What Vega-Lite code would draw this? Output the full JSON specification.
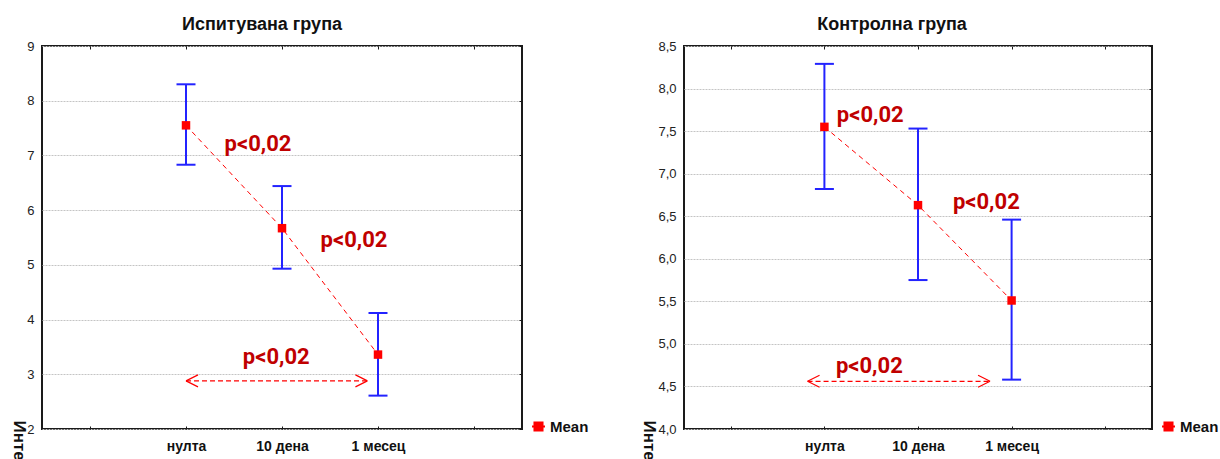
{
  "$schema": "https://vega.github.io/schema/vega-lite/v6.json",
  "background": "white",
  "padding": {"left": 9, "top": 15, "right": 0, "bottom": 0},
  "config": {
    "font": "Liberation Sans",
    "view": {"stroke": "#1a1a1a", "strokeWidth": 2},
    "axis": {"domain": false, "title": null, "grid": false, "labelFont": "Liberation Sans", "tickColor": "#1a1a1a", "tickWidth": 1}
  },
  "datasets": {
    "ispitu": [
      {"t": 1, "mean": 7.55, "lo": 6.83, "hi": 8.30},
      {"t": 2, "mean": 5.67, "lo": 4.93, "hi": 6.44},
      {"t": 3, "mean": 3.36, "lo": 2.61, "hi": 4.12}
    ],
    "ispitu_arrow": [{"x1": 1.0, "x2": 2.89, "y": 2.88}],
    "ispitu_p": [
      {"x": 1.75, "y": 7.09, "label": "p<0,02"},
      {"x": 2.75, "y": 5.33, "label": "p<0,02"},
      {"x": 1.94, "y": 3.19, "label": "p<0,02"}
    ],
    "kontrol": [
      {"t": 1, "mean": 7.55, "lo": 6.82, "hi": 8.29},
      {"t": 2, "mean": 6.63, "lo": 5.75, "hi": 7.53},
      {"t": 3, "mean": 5.51, "lo": 4.58, "hi": 6.46}
    ],
    "kontrol_arrow": [{"x1": 0.82, "x2": 2.77, "y": 4.56}],
    "kontrol_p": [
      {"x": 1.49, "y": 7.61, "label": "p<0,02"},
      {"x": 2.73, "y": 6.59, "label": "p<0,02"},
      {"x": 1.48, "y": 4.66, "label": "p<0,02"}
    ]
  },
  "hconcat": [
    {
      "width": 480,
      "height": 383,
      "title": {"text": "Испитувана група", "fontSize": 18, "fontWeight": "bold", "color": "#111", "dx": -20, "offset": -8, "baseline": "alphabetic"},
      "resolve": {"axis": {"x": "independent", "y": "independent"}},
      "layer": [
        {
          "data": {"name": "ispitu"},
          "mark": {"type": "rule", "color": "#2323ff", "strokeWidth": 2},
          "encoding": {
            "x": {"field": "t", "type": "quantitative", "scale": {"domain": [-0.5, 4.5], "nice": false, "zero": false},
              "axis": {"orient": "bottom", "values": [0, 1, 2, 3, 4], "labelExpr": "datum.value == 1 ? 'нулта' : datum.value == 2 ? '10 дена' : datum.value == 3 ? '1 месец' : ''",
                "ticks": true, "tickSize": -3, "labelFontSize": 14, "labelFontWeight": "bold", "labelColor": "#111", "labelPadding": 13}},
            "y": {"field": "lo", "type": "quantitative", "scale": {"domain": [2, 9], "nice": false, "zero": false},
              "axis": {"orient": "left", "values": [2, 3, 4, 5, 6, 7, 8, 9], "ticks": false, "labelPadding": 8, "labelFontSize": 13, "labelColor": "#222",
                "grid": true, "gridColor": "#c4c4c4", "gridDash": [2, 1], "gridWidth": 1,
                "title": "Инте", "titleAngle": 90, "titleX": -29, "titleY": 374, "titleAlign": "left", "titleBaseline": "alphabetic", "titleFontSize": 17, "titleFontWeight": "bold", "titleColor": "#111"}},
            "y2": {"field": "hi"}
          }
        },
        {
          "data": {"name": "ispitu"},
          "mark": {"type": "tick", "orient": "horizontal", "color": "#2323ff", "size": 19, "thickness": 2, "opacity": 1},
          "encoding": {"x": {"field": "t", "type": "quantitative", "axis": null}, "y": {"field": "lo", "type": "quantitative", "axis": null}}
        },
        {
          "data": {"name": "ispitu"},
          "mark": {"type": "tick", "orient": "horizontal", "color": "#2323ff", "size": 19, "thickness": 2, "opacity": 1},
          "encoding": {"x": {"field": "t", "type": "quantitative", "axis": null}, "y": {"field": "hi", "type": "quantitative", "axis": null}}
        },
        {
          "data": {"name": "ispitu"},
          "mark": {"type": "line", "color": "#ff0000", "strokeWidth": 1, "strokeDash": [5, 4]},
          "encoding": {
            "x": {"field": "t", "type": "quantitative", "axis": {"orient": "top", "values": [0, 1, 2, 3, 4], "labels": false, "ticks": true, "tickSize": -3}},
            "y": {"field": "mean", "type": "quantitative", "axis": {"orient": "right", "values": [2, 3, 4, 5, 6, 7, 8, 9], "labels": false, "ticks": true, "tickSize": -3}}
          }
        },
        {
          "data": {"name": "ispitu_arrow"},
          "mark": {"type": "rule", "color": "#ff0000", "strokeWidth": 1.2, "strokeDash": [5, 3]},
          "encoding": {"x": {"field": "x1", "type": "quantitative", "axis": null}, "x2": {"field": "x2"}, "y": {"field": "y", "type": "quantitative", "axis": null}}
        },
        {
          "data": {"name": "ispitu_arrow"},
          "mark": {"type": "point", "shape": "M0,0L2,-1M0,0L2,1", "filled": false, "color": "#ff0000", "strokeWidth": 1.2, "size": 144, "opacity": 1},
          "encoding": {"x": {"field": "x1", "type": "quantitative", "axis": null}, "y": {"field": "y", "type": "quantitative", "axis": null}}
        },
        {
          "data": {"name": "ispitu_arrow"},
          "mark": {"type": "point", "shape": "M0,0L-2,-1M0,0L-2,1", "filled": false, "color": "#ff0000", "strokeWidth": 1.2, "size": 144, "opacity": 1},
          "encoding": {"x": {"field": "x2", "type": "quantitative", "axis": null}, "y": {"field": "y", "type": "quantitative", "axis": null}}
        },
        {
          "data": {"name": "ispitu"},
          "mark": {"type": "point", "shape": "square", "filled": true, "size": 72, "opacity": 1},
          "encoding": {
            "x": {"field": "t", "type": "quantitative", "axis": null},
            "y": {"field": "mean", "type": "quantitative", "axis": null},
            "color": {"datum": "Mean", "type": "nominal", "scale": {"range": ["#ff0000"]},
              "legend": {"orient": "none", "legendX": 489, "legendY": 373, "title": null, "padding": 0,
                "symbolType": "M-1,0H1M-0.62,-0.62H0.62V0.62H-0.62Z", "symbolSize": 169, "symbolOpacity": 1,
                "labelFontSize": 15, "labelFontWeight": "bold", "labelColor": "#111", "labelOffset": 4,
                "encode": {"symbols": {"update": {"fill": {"value": "#ff0000"}, "stroke": {"value": "#ff0000"}, "strokeWidth": {"value": 2}, "opacity": {"value": 1}}}}}}
          }
        },
        {
          "data": {"name": "ispitu_p"},
          "mark": {"type": "text", "font": "Roboto", "fontSize": 22, "fontWeight": "bold", "color": "#c00000", "align": "center", "baseline": "alphabetic"},
          "encoding": {"x": {"field": "x", "type": "quantitative", "axis": null}, "y": {"field": "y", "type": "quantitative", "axis": null}, "text": {"field": "label"}}
        }
      ]
    },
    {
      "width": 468,
      "height": 383,
      "title": {"text": "Контролна група", "fontSize": 18, "fontWeight": "bold", "color": "#111", "dx": -26, "offset": -8, "baseline": "alphabetic"},
      "resolve": {"axis": {"x": "independent", "y": "independent"}},
      "layer": [
        {
          "data": {"name": "kontrol"},
          "mark": {"type": "rule", "color": "#2323ff", "strokeWidth": 2},
          "encoding": {
            "x": {"field": "t", "type": "quantitative", "scale": {"domain": [-0.5, 4.5], "nice": false, "zero": false},
              "axis": {"orient": "bottom", "values": [0, 1, 2, 3, 4], "labelExpr": "datum.value == 1 ? 'нулта' : datum.value == 2 ? '10 дена' : datum.value == 3 ? '1 месец' : ''",
                "ticks": true, "tickSize": -3, "labelFontSize": 14, "labelFontWeight": "bold", "labelColor": "#111", "labelPadding": 13}},
            "y": {"field": "lo", "type": "quantitative", "scale": {"domain": [4, 8.5], "nice": false, "zero": false},
              "axis": {"orient": "left", "values": [4, 4.5, 5, 5.5, 6, 6.5, 7, 7.5, 8, 8.5], "labelExpr": "replace(format(datum.value, '.1f'), '.', ',')",
                "ticks": false, "labelPadding": 8, "labelFontSize": 13, "labelColor": "#222",
                "grid": true, "gridColor": "#c4c4c4", "gridDash": [2, 1], "gridWidth": 1,
                "title": "Инте", "titleAngle": 90, "titleX": -41, "titleY": 374, "titleAlign": "left", "titleBaseline": "alphabetic", "titleFontSize": 17, "titleFontWeight": "bold", "titleColor": "#111"}},
            "y2": {"field": "hi"}
          }
        },
        {
          "data": {"name": "kontrol"},
          "mark": {"type": "tick", "orient": "horizontal", "color": "#2323ff", "size": 19, "thickness": 2, "opacity": 1},
          "encoding": {"x": {"field": "t", "type": "quantitative", "axis": null}, "y": {"field": "lo", "type": "quantitative", "axis": null}}
        },
        {
          "data": {"name": "kontrol"},
          "mark": {"type": "tick", "orient": "horizontal", "color": "#2323ff", "size": 19, "thickness": 2, "opacity": 1},
          "encoding": {"x": {"field": "t", "type": "quantitative", "axis": null}, "y": {"field": "hi", "type": "quantitative", "axis": null}}
        },
        {
          "data": {"name": "kontrol"},
          "mark": {"type": "line", "color": "#ff0000", "strokeWidth": 1, "strokeDash": [5, 4]},
          "encoding": {
            "x": {"field": "t", "type": "quantitative", "axis": {"orient": "top", "values": [0, 1, 2, 3, 4], "labels": false, "ticks": true, "tickSize": -3}},
            "y": {"field": "mean", "type": "quantitative", "axis": {"orient": "right", "values": [4, 4.5, 5, 5.5, 6, 6.5, 7, 7.5, 8, 8.5], "labels": false, "ticks": true, "tickSize": -3}}
          }
        },
        {
          "data": {"name": "kontrol_arrow"},
          "mark": {"type": "rule", "color": "#ff0000", "strokeWidth": 1.2, "strokeDash": [5, 3]},
          "encoding": {"x": {"field": "x1", "type": "quantitative", "axis": null}, "x2": {"field": "x2"}, "y": {"field": "y", "type": "quantitative", "axis": null}}
        },
        {
          "data": {"name": "kontrol_arrow"},
          "mark": {"type": "point", "shape": "M0,0L2,-1M0,0L2,1", "filled": false, "color": "#ff0000", "strokeWidth": 1.2, "size": 144, "opacity": 1},
          "encoding": {"x": {"field": "x1", "type": "quantitative", "axis": null}, "y": {"field": "y", "type": "quantitative", "axis": null}}
        },
        {
          "data": {"name": "kontrol_arrow"},
          "mark": {"type": "point", "shape": "M0,0L-2,-1M0,0L-2,1", "filled": false, "color": "#ff0000", "strokeWidth": 1.2, "size": 144, "opacity": 1},
          "encoding": {"x": {"field": "x2", "type": "quantitative", "axis": null}, "y": {"field": "y", "type": "quantitative", "axis": null}}
        },
        {
          "data": {"name": "kontrol"},
          "mark": {"type": "point", "shape": "square", "filled": true, "size": 72, "opacity": 1},
          "encoding": {
            "x": {"field": "t", "type": "quantitative", "axis": null},
            "y": {"field": "mean", "type": "quantitative", "axis": null},
            "color": {"datum": "Mean", "type": "nominal", "scale": {"range": ["#ff0000"]},
              "legend": {"orient": "none", "legendX": 477, "legendY": 373, "title": null, "padding": 0,
                "symbolType": "M-1,0H1M-0.62,-0.62H0.62V0.62H-0.62Z", "symbolSize": 169, "symbolOpacity": 1,
                "labelFontSize": 15, "labelFontWeight": "bold", "labelColor": "#111", "labelOffset": 4,
                "encode": {"symbols": {"update": {"fill": {"value": "#ff0000"}, "stroke": {"value": "#ff0000"}, "strokeWidth": {"value": 2}, "opacity": {"value": 1}}}}}}
          }
        },
        {
          "data": {"name": "kontrol_p"},
          "mark": {"type": "text", "font": "Roboto", "fontSize": 22, "fontWeight": "bold", "color": "#c00000", "align": "center", "baseline": "alphabetic"},
          "encoding": {"x": {"field": "x", "type": "quantitative", "axis": null}, "y": {"field": "y", "type": "quantitative", "axis": null}, "text": {"field": "label"}}
        }
      ]
    }
  ],
  "spacing": 162,
  "bounds": "flush",
  "resolve": {"scale": {"color": "independent"}, "legend": {"color": "independent"}}
}
